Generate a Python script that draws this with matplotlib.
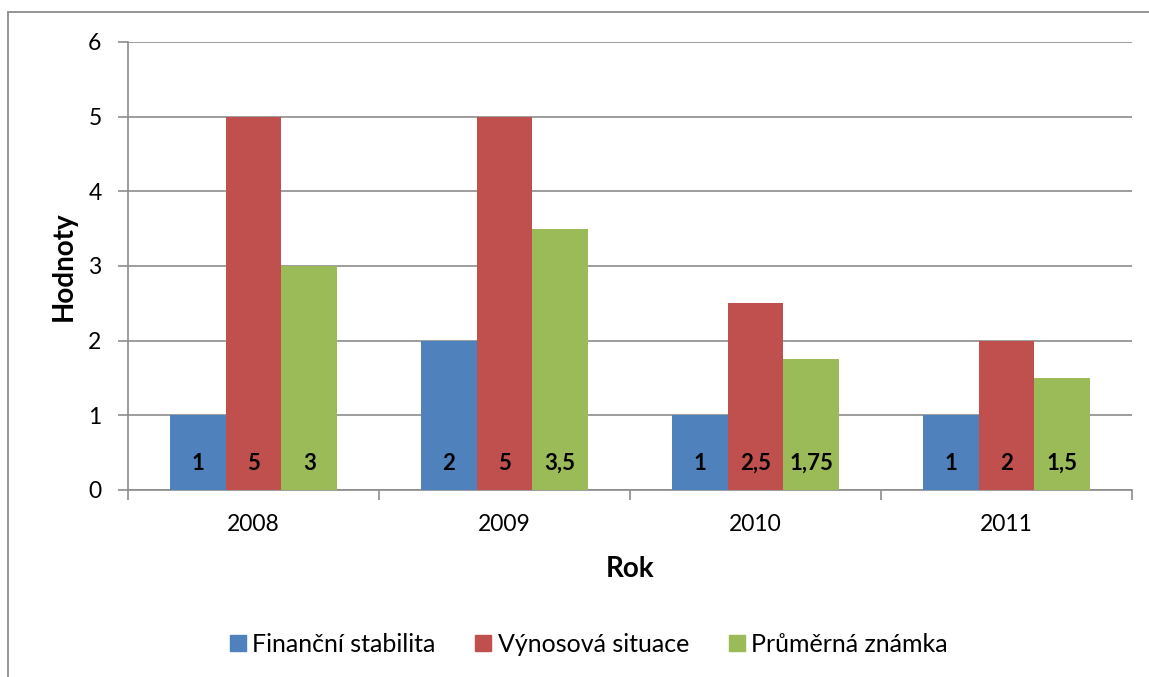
import numpy as np
import matplotlib.pyplot as plt
from matplotlib.patches import Rectangle
from matplotlib.lines import Line2D

plt.rcParams['font.family'] = ['Lato', 'DejaVu Sans']

years = ['2008', '2009', '2010', '2011']
financni = [1, 2, 1, 1]
vynosova = [5, 5, 2.5, 2]
prumerna = [3, 3.5, 1.75, 1.5]
series = ['Finanční stabilita', 'Výnosová situace', 'Průměrná známka']
colors = ['#4F81BD', '#C0504D', '#9BBB59']

fig = plt.figure(figsize=(11.49, 6.77), dpi=100)
# outer chart frame (cut off on right/bottom like the original)
fig.patches.append(Rectangle((8 / 1149, -0.05), 1.2, 1 - 12 / 677 + 0.05,
                             transform=fig.transFigure, fill=False,
                             edgecolor='#8c8c8c', linewidth=1.3))

ax = fig.add_axes([128 / 1149, 1 - 490 / 677, 1004 / 1149, 448 / 677])

x = np.arange(len(years))
w = 0.222
for i, (vals, c) in enumerate(zip([financni, vynosova, prumerna], colors)):
    pos = x + (i - 1) * w
    ax.bar(pos, vals, width=w, color=c, zorder=3)
    for p, v in zip(pos, vals):
        ax.text(p, 0.36, f'{v:g}'.replace('.', ','), ha='center', va='center',
                fontsize=16, fontweight='bold', color='black', zorder=4)

ax.set_xlim(-0.5, len(years) - 0.5)
ax.set_ylim(0, 6)
ax.set_yticks(range(7))
ax.yaxis.grid(True, color='#8c8c8c', linewidth=1.2, zorder=0)
ax.set_xticks(x)
ax.set_xticklabels(years)
ax.set_xticks(np.arange(len(years) + 1) - 0.5, minor=True)
ax.tick_params(axis='x', which='major', length=0, pad=17, labelsize=16.5)
ax.tick_params(axis='x', which='minor', length=7, color='#8c8c8c', width=1.2)
ax.tick_params(axis='y', length=7, color='#8c8c8c', width=1.2, labelsize=16.5, pad=12)

for s in ['top', 'right']:
    ax.spines[s].set_visible(False)
for s in ['left', 'bottom']:
    ax.spines[s].set_color('#8c8c8c')
    ax.spines[s].set_linewidth(1.2)

ax.set_ylabel('Hodnoty', fontsize=20, fontweight='bold')
ax.yaxis.set_label_coords((77 - 128) / 1004, 0.5)
ax.set_xlabel('Rok', fontsize=20, fontweight='bold')
ax.xaxis.set_label_coords(0.5, (490 - 556) / 448)

handles = [Line2D([], [], marker='s', linestyle='none', markersize=11,
                  markerfacecolor=c, markeredgecolor=c) for c in colors]
fig.legend(handles, series, loc='center', bbox_to_anchor=(589 / 1149, 1 - 644 / 677),
           ncol=3, frameon=False, fontsize=18, handletextpad=0.28,
           columnspacing=1.6, handlelength=0.6)

fig.savefig('out.png', dpi=100)
